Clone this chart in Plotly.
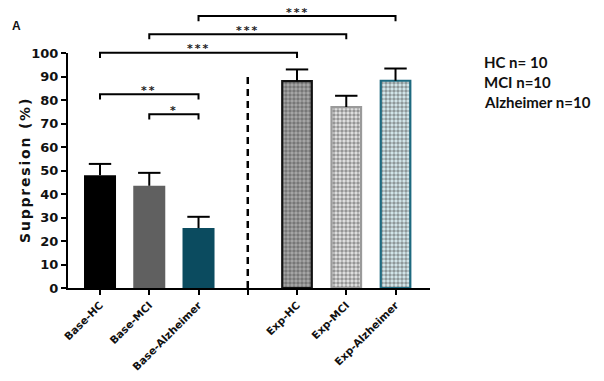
import plotly.graph_objects as go

# ---------------- data ----------------
categories = ["Base-HC", "Base-MCI", "Base-Alzheimer", " ", "Exp-HC", "Exp-MCI", "Exp-Alzheimer"]
base_labels = ["Base-HC", "Base-MCI", "Base-Alzheimer"]
base_values = [48, 43.5, 25.5]
base_errors = [4.8, 5.5, 4.8]
exp_labels = ["Exp-HC", "Exp-MCI", "Exp-Alzheimer"]
exp_values = [88, 77, 88.2]
exp_errors = [5.0, 4.8, 5.2]
gap_label = " "
gap_line_top = 90

# significance brackets: (from, to, level, text)
brackets = [
    ("Base-HC", "Base-Alzheimer", 82.4, "**"),
    ("Base-MCI", "Base-Alzheimer", 73.9, "*"),
    ("Base-HC", "Exp-HC", 100.1, "***"),
    ("Base-MCI", "Exp-MCI", 108.0, "***"),
    ("Base-Alzheimer", "Exp-Alzheimer", 115.7, "***"),
]
bracket_drop = 2.2

group_notes = ["HC n= 10", "MCI n=10", "Alzheimer n=10"]

# ---------------- styles ----------------
base_colors = ["#000000", "#606060", "#0b4b5f"]
exp_fg = ["#000000", "#8a8a8a", "#2f7a90"]
exp_bg = ["#aaaaaa", "#e6e6e6", "#d8ecf0"]
exp_line = ["#111111", "#9a9a9a", "#1e6a80"]

W, H = 604, 381
ML, MT = 68, 11
MR = W - 430
MB = H - 288
plot_h = H - MT - MB
plot_w = W - ML - MR
px_per_unit = 2.35
dom_top = 100 * px_per_unit / plot_h
y2_max = 100 / dom_top


def px_x(sx):
    return (sx - ML) / plot_w


def px_y(sy):
    return (H - MB - sy) / plot_h


def spaced(text, sp):
    return f'<span style="letter-spacing:{sp}px">{text}</span>'


fig = go.Figure()

fig.add_trace(go.Bar(
    x=base_labels, y=base_values, width=0.65,
    marker=dict(color=base_colors, line=dict(width=0)),
    showlegend=False,
))
fig.add_trace(go.Bar(
    x=exp_labels, y=exp_values, width=0.6,
    marker=dict(
        color=exp_bg,
        line=dict(color=exp_line, width=2.2),
        pattern=dict(shape=".", fgcolor=exp_fg, bgcolor=exp_bg, size=4, solidity=0.6),
    ),
    showlegend=False,
))

# error bars (upper only) drawn as stem + cap
for labels, vals, errs in [(base_labels, base_values, base_errors), (exp_labels, exp_values, exp_errors)]:
    tops = [v + e for v, e in zip(vals, errs)]
    fig.add_trace(go.Scatter(
        x=labels, y=tops, mode="markers",
        marker=dict(symbol="line-ew", size=16, line=dict(width=2, color="black"), color="black"),
        error_y=dict(type="data", symmetric=False, array=[0] * len(errs), arrayminus=errs,
                     width=0, thickness=2, color="black"),
        showlegend=False, hoverinfo="skip",
    ))

# invisible trace on y2 so the overlay subplot exists
fig.add_trace(go.Scatter(x=[categories[0]], y=[0], yaxis="y2", mode="markers",
                         marker=dict(opacity=0), showlegend=False, hoverinfo="skip"))

shapes = []
annotations = []
# dashed separator
shapes.append(dict(type="line", xref="x", yref="y", x0=gap_label, x1=gap_label, y0=0, y1=gap_line_top,
                   line=dict(color="black", width=2.5, dash="7px,5px")))

idx = {c: i for i, c in enumerate(categories)}
for a, b, lvl, txt in brackets:
    ia, ib = idx[a], idx[b]
    shapes.append(dict(type="path", xref="x", yref="y2",
                       path=f"M {ia},{lvl - bracket_drop} L {ia},{lvl} L {ib},{lvl} L {ib},{lvl - bracket_drop}",
                       line=dict(color="black", width=2)))
    annotations.append(dict(x=(ia + ib) / 2, y=lvl, xref="x", yref="y2", text=spaced(txt, 2), showarrow=False,
                            yanchor="middle", yshift=4,
                            font=dict(family="DejaVu Sans", size=11, color="#222", weight="bold")))

# group size notes
for i, t in enumerate(group_notes):
    annotations.append(dict(x=px_x(482), y=px_y(62 + 20 * i),
                            xref="paper", yref="paper", text=t, showarrow=False,
                            xanchor="left", yanchor="middle",
                            font=dict(family="Lato", size=15, color="#111", weight="bold")))
# panel letter
annotations.append(dict(x=px_x(10), y=px_y(17), xref="paper", yref="paper",
                        text="A", showarrow=False, font=dict(family="Liberation Sans", size=12, color="#111", weight="bold")))
# y title
annotations.append(dict(x=px_x(15), y=px_y(170), xref="paper", yref="paper",
                        text=spaced("Suppresion (%)", 1.8), textangle=-90, showarrow=False,
                        font=dict(family="DejaVu Sans", size=14, color="#111", weight="bold")))

fig.update_layout(
    width=W, height=H,
    margin=dict(l=ML, r=MR, t=MT, b=MB, autoexpand=False),
    paper_bgcolor="white", plot_bgcolor="rgba(0,0,0,0)",
    shapes=shapes, annotations=annotations,
    bargap=0.3,
    xaxis=dict(type="category", categoryorder="array", categoryarray=categories,
               range=[-0.65, 6.7], showline=True, linewidth=2, linecolor="black",
               ticks="outside", ticklen=5, tickwidth=2, tickcolor="black",
               tickangle=-45, showgrid=False, zeroline=False, automargin=False,
               tickfont=dict(family="DejaVu Sans", size=10.5, color="#111", weight="bold")),
    yaxis=dict(range=[0, 100], domain=[0, dom_top], dtick=10, showline=True, linewidth=2, linecolor="black",
               ticks="outside", ticklen=5, tickwidth=2, tickcolor="black",
               showgrid=False, zeroline=False, automargin=False,
               tickfont=dict(family="DejaVu Sans", size=13, color="#111", weight="bold")),
    yaxis2=dict(range=[0, y2_max], domain=[0, 1], anchor="x", visible=False,
                showgrid=False, zeroline=False, automargin=False),
)

fig.write_html("out.html", config={"displayModeBar": False},
               post_script="document.body.style.margin='0';document.body.style.overflow='hidden';")
